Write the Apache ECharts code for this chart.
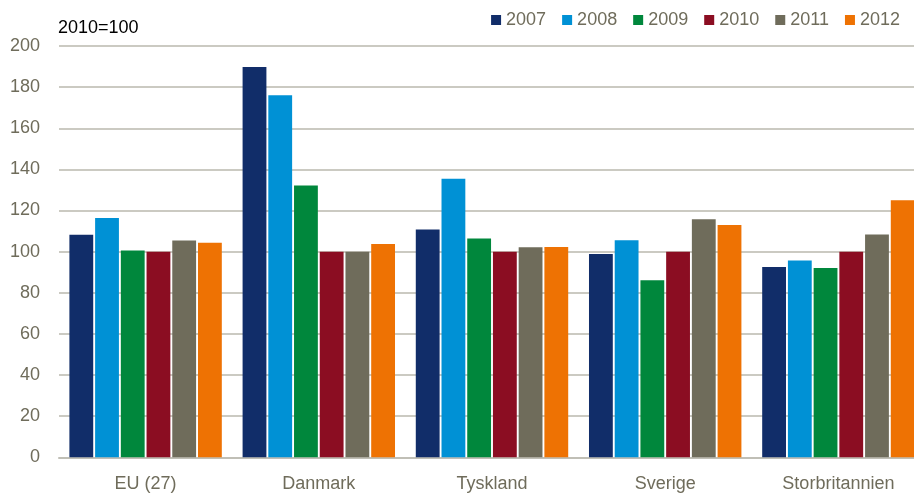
<!DOCTYPE html>
<html><head><meta charset="utf-8">
<script src="https://cdn.jsdelivr.net/npm/echarts@6/dist/echarts.min.js"></script>
<style>html,body{margin:0;padding:0;background:#fff;overflow:hidden}#c{width:925px;height:495px}</style>
</head><body><div id="c"></div>
<script>
const categories = ['EU (27)', 'Danmark', 'Tyskland', 'Sverige', 'Storbritannien'];
const years = ['2007', '2008', '2009', '2010', '2011', '2012'];
const v2007 = [108.2, 189.8, 110.8, 98.9, 92.5];
const v2008 = [116.4, 176.0, 135.4, 105.6, 95.7];
const v2009 = [100.5, 132.2, 106.4, 86.1, 92.0];
const v2010 = [100, 100, 100, 100, 100];
const v2011 = [105.4, 100.0, 102.2, 115.8, 108.3];
const v2012 = [104.3, 103.7, 102.3, 113.0, 125.0];
const yTicks = [0, 20, 40, 60, 80, 100, 120, 140, 160, 180, 200];
const colors = ['#112d69', '#0091d5', '#00873c', '#8b0d22', '#6f6c5b', '#ee7203'];
const values = [v2007, v2008, v2009, v2010, v2011, v2012];
const FONT = '"Liberation Sans", Arial, sans-serif';
const TXT = '#6f6c5b';

const chart = echarts.init(document.getElementById('c'), null, {renderer: 'canvas'});
chart.setOption({
  animation: false,
  color: colors,
  textStyle: {fontFamily: FONT},
  title: {
    text: '2010=100', left: 53, top: 14,
    textStyle: {fontFamily: FONT, fontSize: 18, fontWeight: 'normal', color: '#000'}
  },
  legend: {
    data: years, right: 20, top: 6,
    itemWidth: 10, itemHeight: 10, itemGap: 16,
    icon: 'rect',
    textStyle: {fontFamily: FONT, fontSize: 18, color: TXT}
  },
  grid: {left: 59, right: 0, top: 46, bottom: 37.7, containLabel: false},
  xAxis: {
    type: 'category', data: categories,
    axisTick: {show: false},
    axisLine: {lineStyle: {color: '#c0bfb6', width: 2}},
    axisLabel: {fontFamily: FONT, fontSize: 18, color: TXT, margin: 18}
  },
  yAxis: {
    type: 'value', min: yTicks[0], max: yTicks[yTicks.length - 1], interval: 20,
    axisLine: {show: false}, axisTick: {show: false},
    axisLabel: {fontFamily: FONT, fontSize: 18, color: TXT, margin: 19},
    splitLine: {lineStyle: {color: '#cbcac2', width: 2}}
  },
  series: years.map((y, i) => ({
    name: y, type: 'bar', data: values[i],
    barCategoryGap: '12%', barGap: '8%',
    itemStyle: {color: colors[i]}
  }))
});
</script></body></html>
